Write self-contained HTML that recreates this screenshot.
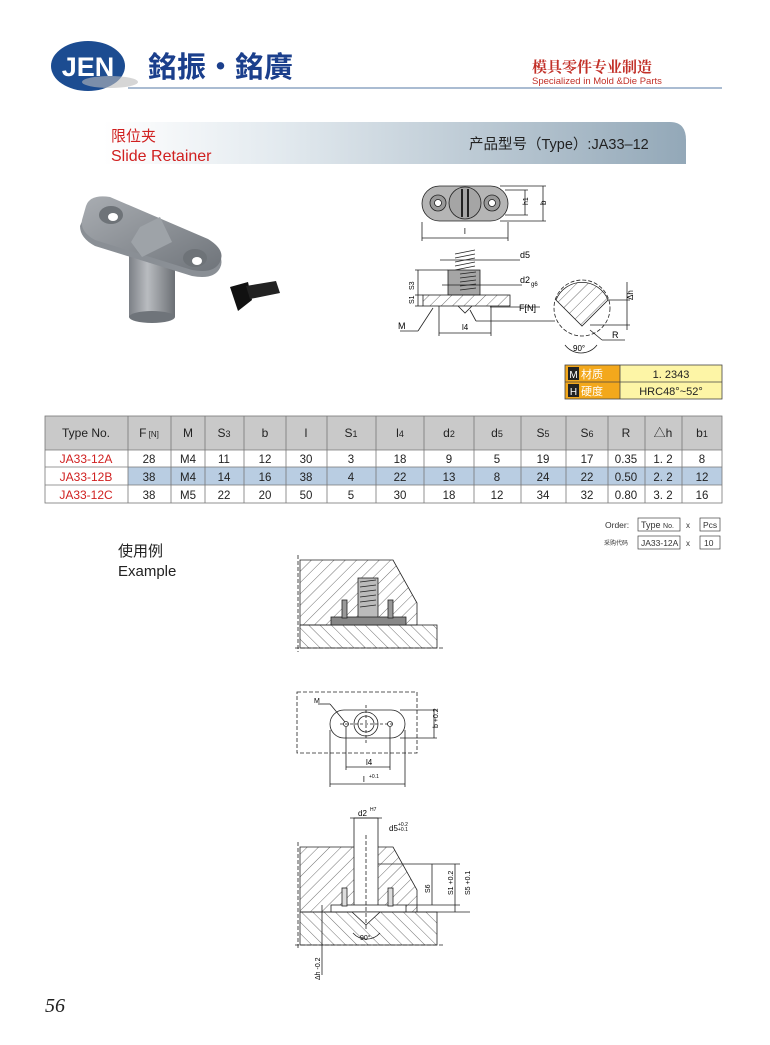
<!DOCTYPE html>
<html><head><meta charset="utf-8"><style>
html,body{margin:0;padding:0;background:#fff}
body{width:770px;height:1045px;position:relative;overflow:hidden;font-family:"Liberation Sans","Noto Sans CJK SC",sans-serif}
svg{position:absolute;left:0;top:0}
</style></head><body>
<svg width="770" height="1045" viewBox="0 0 770 1045" xmlns="http://www.w3.org/2000/svg" font-family="Liberation Sans, Noto Sans CJK SC, sans-serif">
<defs>
<linearGradient id="ban" x1="0" x2="1" y1="0" y2="0"><stop offset="0" stop-color="#fff"/><stop offset="0.3" stop-color="#e3eaef"/><stop offset="1" stop-color="#93a8b8"/></linearGradient>
<linearGradient id="metal" x1="0" x2="1" y1="0" y2="1"><stop offset="0" stop-color="#a9adb2"/><stop offset="1" stop-color="#6f747a"/></linearGradient>
<linearGradient id="cyl" x1="0" x2="1"><stop offset="0" stop-color="#7c8086"/><stop offset="0.4" stop-color="#b9bcc0"/><stop offset="1" stop-color="#6b6f74"/></linearGradient>
<pattern id="h" width="8" height="8" patternUnits="userSpaceOnUse" patternTransform="rotate(45)"><line x1="0" y1="0" x2="0" y2="8" stroke="#333" stroke-width="0.7"/></pattern>
<pattern id="h2" width="8" height="8" patternUnits="userSpaceOnUse" patternTransform="rotate(-45)"><line x1="0" y1="0" x2="0" y2="8" stroke="#333" stroke-width="0.7"/></pattern>
</defs>

<!-- header -->
<ellipse cx="88" cy="66" rx="37" ry="25" fill="#1c4c91"/>
<ellipse cx="110" cy="82" rx="28" ry="6" fill="#bbb" opacity="0.6"/>
<text x="88" y="76" font-size="27" font-weight="bold" fill="#fff" text-anchor="middle">JEN</text>
<text x="148" y="77" font-size="29" font-weight="bold" fill="#1b3f8c" font-family="Noto Sans CJK TC, sans-serif">銘振•銘廣</text>
<text x="532" y="72" font-size="15" fill="#c23028" font-weight="bold" font-family="Noto Serif CJK SC, serif">模具零件专业制造</text>
<text x="532" y="84" font-size="9.5" fill="#c23028">Specialized in Mold &amp;Die Parts</text>
<line x1="128" y1="88" x2="722" y2="88" stroke="#8ea6c4" stroke-width="1.5"/>

<!-- banner -->
<path d="M103 122 H670 Q686 122 686 140 V164 H103 Z" fill="url(#ban)"/>
<text x="111" y="141" font-size="15" fill="#d02020">限位夹</text>
<text x="111" y="161" font-size="16" fill="#d02020">Slide  Retainer</text>
<text x="469" y="149" font-size="14.5" fill="#222">产品型号（Type）:JA33–12</text>

<!-- product photo -->
<rect x="129" y="255" width="46" height="62" fill="url(#cyl)"/>
<ellipse cx="152" cy="317" rx="23" ry="6" fill="#6f747a"/>
<path d="M86 212 Q90 200 110 203 L208 245 Q226 256 220 268 Q214 280 192 276 L95 246 Q80 238 80 226 Z" fill="#8a8f95"/>
<path d="M86 206 Q90 194 110 197 L208 239 Q226 250 220 262 Q214 274 192 270 L95 240 Q80 232 82 220 Z" fill="url(#metal)"/>
<ellipse cx="111" cy="215" rx="12" ry="9" fill="#6e7378"/><ellipse cx="113" cy="217" rx="5" ry="4" fill="#fff"/>
<ellipse cx="195" cy="258" rx="12" ry="9" fill="#6e7378"/><ellipse cx="197" cy="261" rx="5" ry="4" fill="#fff"/>
<path d="M140 227 L160 217 L172 242 L142 257 L131 242 Z" fill="#9ea3a8"/>
<path d="M230 287 L248 282 L252 300 L238 311 Z" fill="#111"/>
<path d="M246 286 L276 281 L280 293 L250 299 Z" fill="#222"/>

<!-- top tech drawing: top view -->
<g stroke="#222" stroke-width="0.8" fill="none">
<rect x="422" y="186" width="86" height="35" rx="17.5" fill="#b5b5b5"/>
<circle cx="438" cy="203" r="8" fill="#999"/><circle cx="438" cy="203" r="3.5" fill="#fff"/>
<circle cx="492" cy="203" r="8" fill="#999"/><circle cx="492" cy="203" r="3.5" fill="#fff"/>
<circle cx="465" cy="203" r="16" fill="#a5a5a5"/>
<line x1="462" y1="189" x2="462" y2="217" stroke-width="2"/><line x1="468" y1="189" x2="468" y2="217" stroke-width="2"/>
<line x1="422" y1="238" x2="508" y2="238"/><line x1="422" y1="222" x2="422" y2="241"/><line x1="508" y1="222" x2="508" y2="241"/>
<line x1="500" y1="186" x2="546" y2="186"/><line x1="500" y1="221" x2="546" y2="221"/>
<line x1="543" y1="186" x2="543" y2="221"/><line x1="525" y1="190" x2="525" y2="215"/>
<line x1="505" y1="190" x2="528" y2="190"/><line x1="505" y1="215" x2="528" y2="215"/>
</g>
<text x="464" y="234" font-size="8">l</text>
<text x="528" y="205" font-size="7" transform="rotate(-90 528 205)">h1</text>
<text x="546" y="205" font-size="8" transform="rotate(-90 546 205)">b</text>
<!-- side view -->
<g stroke="#222" stroke-width="0.8" fill="none">
<path d="M455 254 L475 250 M455 258 L475 254 M455 262 L475 258 M455 266 L475 262 M455 270 L475 266" />
<rect x="448" y="270" width="32" height="25" fill="#a5a5a5"/>
<path d="M460 274 L476 272 M460 278 L476 276 M460 282 L476 280 M460 286 L476 284 M460 290 L476 288"/>
<rect x="423" y="295" width="87" height="11" fill="url(#h)"/>
<path d="M458 306 L465 313 L472 306" />
<line x1="440" y1="260" x2="520" y2="260"/><line x1="442" y1="285" x2="522" y2="285"/>
<line x1="415" y1="270" x2="448" y2="270"/><line x1="415" y1="295" x2="423" y2="295"/><line x1="415" y1="306" x2="423" y2="306"/>
<line x1="418" y1="270" x2="418" y2="306"/>
<line x1="439" y1="306" x2="439" y2="336"/><line x1="491" y1="306" x2="491" y2="336"/>
<line x1="439" y1="333" x2="491" y2="333"/>
<line x1="400" y1="331" x2="418" y2="331"/><line x1="418" y1="331" x2="433" y2="308"/>
<line x1="470" y1="310" x2="476" y2="321"/><line x1="476" y1="321" x2="555" y2="321"/>
<line x1="490" y1="307" x2="540" y2="307"/>
<circle cx="582" cy="308" r="28" stroke-dasharray="4 2"/>
</g>
<path d="M556 300 A28 28 0 0 1 608 300 L582 326 Z" fill="url(#h)" stroke="#222" stroke-width="0.8"/>
<g stroke="#222" stroke-width="0.8" fill="none">
<line x1="608" y1="300" x2="630" y2="300"/><line x1="590" y1="325" x2="630" y2="325"/><line x1="627" y1="282" x2="627" y2="330"/>
<line x1="590" y1="330" x2="602" y2="340"/><line x1="602" y1="340" x2="625" y2="340"/>
<path d="M565 345 A20 20 0 0 0 597 345"/>
</g>
<text x="520" y="258" font-size="9">d5</text>
<text x="520" y="283" font-size="9">d2</text><text x="531" y="286" font-size="6">g6</text>
<text x="519" y="311" font-size="9">F[N]</text>
<text x="398" y="329" font-size="9">M</text>
<text x="462" y="330" font-size="8">l4</text>
<text x="414" y="290" font-size="7" transform="rotate(-90 414 290)">S3</text>
<text x="414" y="304" font-size="7" transform="rotate(-90 414 304)">S1</text>
<text x="633" y="300" font-size="8" transform="rotate(-90 633 300)">Δh</text>
<text x="612" y="338" font-size="9">R</text>
<text x="573" y="351" font-size="8">90°</text>

<!-- material box -->
<rect x="565" y="365" width="55" height="17" fill="#f3a81c"/><rect x="565" y="382" width="55" height="17" fill="#f3a81c"/>
<rect x="620" y="365" width="102" height="17" fill="#fdf5a6"/><rect x="620" y="382" width="102" height="17" fill="#fdf5a6"/>
<g stroke="#444" stroke-width="0.8" fill="none"><rect x="565" y="365" width="157" height="34"/><line x1="565" y1="382" x2="722" y2="382"/><line x1="620" y1="365" x2="620" y2="399"/></g>
<rect x="568" y="367" width="11" height="13" fill="#222"/><text x="573.5" y="378" font-size="10" fill="#fff" text-anchor="middle">M</text>
<rect x="568" y="384" width="11" height="13" fill="#222"/><text x="573.5" y="395" font-size="10" fill="#fff" text-anchor="middle">H</text>
<text x="581" y="378" font-size="11" fill="#fff">材质</text><text x="581" y="395" font-size="11" fill="#fff">硬度</text>
<text x="671" y="378" font-size="11" text-anchor="middle" fill="#222">1. 2343</text>
<text x="671" y="395" font-size="11" text-anchor="middle" fill="#222">HRC48°~52°</text>

<!-- table -->
<rect x="45" y="416" width="677" height="34" fill="#c9c9c9"/>
<rect x="128" y="467" width="594" height="18" fill="#b9cde2"/>
<g stroke="#777" stroke-width="0.8" fill="none">
<rect x="45" y="416" width="677" height="87"/>
<line x1="45" y1="450" x2="722" y2="450"/><line x1="45" y1="467" x2="722" y2="467"/><line x1="45" y1="485" x2="722" y2="485"/>
<line x1="128" y1="416" x2="128" y2="503"/><line x1="171" y1="416" x2="171" y2="503"/><line x1="205" y1="416" x2="205" y2="503"/>
<line x1="244" y1="416" x2="244" y2="503"/><line x1="286" y1="416" x2="286" y2="503"/><line x1="327" y1="416" x2="327" y2="503"/>
<line x1="376" y1="416" x2="376" y2="503"/><line x1="424" y1="416" x2="424" y2="503"/><line x1="474" y1="416" x2="474" y2="503"/>
<line x1="521" y1="416" x2="521" y2="503"/><line x1="566" y1="416" x2="566" y2="503"/><line x1="608" y1="416" x2="608" y2="503"/>
<line x1="645" y1="416" x2="645" y2="503"/><line x1="682" y1="416" x2="682" y2="503"/>
</g>
<g font-size="12" fill="#222" text-anchor="middle">
<text x="86" y="437">Type No.</text><text x="149" y="437">F<tspan font-size="8"> [N]</tspan></text><text x="188" y="437">M</text>
<text x="224" y="437">S<tspan font-size="9">3</tspan></text><text x="265" y="437">b</text><text x="306" y="437">l</text>
<text x="351" y="437">S<tspan font-size="9">1</tspan></text><text x="400" y="437">l<tspan font-size="9">4</tspan></text>
<text x="449" y="437">d<tspan font-size="9">2</tspan></text><text x="497" y="437">d<tspan font-size="9">5</tspan></text>
<text x="543" y="437">S<tspan font-size="9">5</tspan></text><text x="587" y="437">S<tspan font-size="9">6</tspan></text>
<text x="626" y="437">R</text><text x="663" y="437">△h</text><text x="702" y="437">b<tspan font-size="9">1</tspan></text>
</g>
<g font-size="12" fill="#d02020" text-anchor="middle"><text x="86" y="463">JA33-12A</text><text x="86" y="481">JA33-12B</text><text x="86" y="499">JA33-12C</text></g>
<g font-size="11.5" fill="#222" text-anchor="middle">
<text y="463"><tspan x="149">28</tspan><tspan x="188">M4</tspan><tspan x="224">11</tspan><tspan x="265">12</tspan><tspan x="306">30</tspan><tspan x="351">3</tspan><tspan x="400">18</tspan><tspan x="449">9</tspan><tspan x="497">5</tspan><tspan x="543">19</tspan><tspan x="587">17</tspan><tspan x="626">0.35</tspan><tspan x="663">1. 2</tspan><tspan x="702">8</tspan></text>
<text y="481"><tspan x="149">38</tspan><tspan x="188">M4</tspan><tspan x="224">14</tspan><tspan x="265">16</tspan><tspan x="306">38</tspan><tspan x="351">4</tspan><tspan x="400">22</tspan><tspan x="449">13</tspan><tspan x="497">8</tspan><tspan x="543">24</tspan><tspan x="587">22</tspan><tspan x="626">0.50</tspan><tspan x="663">2. 2</tspan><tspan x="702">12</tspan></text>
<text y="499"><tspan x="149">38</tspan><tspan x="188">M5</tspan><tspan x="224">22</tspan><tspan x="265">20</tspan><tspan x="306">50</tspan><tspan x="351">5</tspan><tspan x="400">30</tspan><tspan x="449">18</tspan><tspan x="497">12</tspan><tspan x="543">34</tspan><tspan x="587">32</tspan><tspan x="626">0.80</tspan><tspan x="663">3. 2</tspan><tspan x="702">16</tspan></text>
</g>

<!-- order -->
<text x="605" y="528" font-size="8.5" fill="#333">Order:</text>
<text x="604" y="545" font-size="6" fill="#333">采购代码</text>
<g stroke="#444" stroke-width="0.7" fill="none"><rect x="638" y="518" width="42" height="13"/><rect x="700" y="518" width="20" height="13"/><rect x="638" y="536" width="42" height="13"/><rect x="700" y="536" width="20" height="13"/></g>
<text x="641" y="528" font-size="9" fill="#333">Type <tspan font-size="7">No.</tspan></text><text x="686" y="528" font-size="8" fill="#333">x</text><text x="703" y="528" font-size="8.5" fill="#333">Pcs</text>
<text x="641" y="546" font-size="8.5" fill="#333">JA33-12A</text><text x="686" y="546" font-size="8" fill="#333">x</text><text x="704" y="546" font-size="8.5" fill="#333">10</text>

<text x="118" y="556" font-size="15" fill="#222">使用例</text>
<text x="118" y="576" font-size="15" fill="#222">Example</text>

<!-- example 1 -->
<g stroke="#222" stroke-width="0.8">
<path d="M300 560 H393 L417 603 V625 H300 Z" fill="url(#h)"/>
<rect x="300" y="625" width="137" height="23" fill="url(#h2)"/>
<rect x="358" y="578" width="20" height="40" fill="#bbb"/>
<path d="M360 582 L376 580 M360 587 L376 585 M360 592 L376 590 M360 597 L376 595 M360 602 L376 600 M360 607 L376 605" fill="none"/>
<rect x="331" y="617" width="75" height="8" fill="#888"/>
<rect x="342" y="600" width="5" height="18" fill="#999"/><rect x="388" y="600" width="5" height="18" fill="#999"/>
<line x1="295" y1="648" x2="445" y2="648" stroke-dasharray="4 2" fill="none"/>
<line x1="298" y1="555" x2="298" y2="652" stroke-dasharray="4 2" fill="none"/>
</g>
<!-- example 2 -->
<g stroke="#222" stroke-width="0.8" fill="none">
<rect x="297" y="692" width="120" height="61" stroke-dasharray="4 2"/>
<rect x="330" y="710" width="75" height="28" rx="14"/>
<circle cx="366" cy="724" r="12"/><circle cx="366" cy="724" r="8"/>
<circle cx="346" cy="724" r="2.5"/><circle cx="390" cy="724" r="2.5"/>
<line x1="366" y1="705" x2="366" y2="745" stroke-dasharray="3 2"/><line x1="340" y1="724" x2="392" y2="724" stroke-dasharray="3 2"/>
<line x1="346" y1="727" x2="346" y2="770"/><line x1="390" y1="727" x2="390" y2="770"/><line x1="346" y1="767" x2="390" y2="767"/>
<line x1="330" y1="730" x2="330" y2="787"/><line x1="405" y1="730" x2="405" y2="787"/><line x1="330" y1="784" x2="405" y2="784"/>
<line x1="400" y1="710" x2="437" y2="710"/><line x1="400" y1="738" x2="437" y2="738"/><line x1="434" y1="710" x2="434" y2="738"/>
<line x1="318" y1="704" x2="330" y2="704"/><line x1="330" y1="704" x2="345" y2="722"/>
</g>
<text x="314" y="703" font-size="7">M</text><text x="366" y="765" font-size="8">l4</text><text x="363" y="782" font-size="8">l</text><text x="369" y="778" font-size="5">+0.1</text>
<text x="438" y="728" font-size="7" transform="rotate(-90 438 728)">b +0.2</text>
<!-- example 3 -->
<g stroke="#222" stroke-width="0.8">
<path d="M300 847 H393 L417 890 V912 H300 Z" fill="url(#h)"/>
<rect x="354" y="818" width="24" height="94" fill="#fff"/>
<rect x="331" y="905" width="75" height="7" fill="#fff"/>
<rect x="300" y="912" width="137" height="33" fill="url(#h2)"/>
<path d="M352 912 L366 925 L380 912 Z" fill="#fff"/>
<rect x="342" y="888" width="5" height="18" fill="#ddd"/><rect x="388" y="888" width="5" height="18" fill="#ddd"/>
<g fill="none">
<line x1="350" y1="818" x2="382" y2="818"/><line x1="366" y1="835" x2="366" y2="930" stroke-dasharray="4 2"/>
<line x1="378" y1="864" x2="460" y2="864"/><line x1="406" y1="905" x2="460" y2="905"/><line x1="410" y1="912" x2="470" y2="912"/>
<line x1="432" y1="864" x2="432" y2="905"/><line x1="455" y1="864" x2="455" y2="912"/>
<line x1="295" y1="945" x2="445" y2="945" stroke-dasharray="4 2"/>
<line x1="298" y1="842" x2="298" y2="950" stroke-dasharray="4 2"/>
<line x1="322" y1="905" x2="322" y2="975"/>
<path d="M353 933 A18 18 0 0 0 380 933"/>
</g>
</g>
<text x="358" y="816" font-size="8">d2</text><text x="370" y="811" font-size="5">H7</text>
<text x="389" y="831" font-size="8">d5</text><text x="398" y="826" font-size="5">+0.2</text><text x="398" y="831" font-size="5">+0.1</text>
<text x="360" y="940" font-size="7">90°</text>
<text x="430" y="893" font-size="7" transform="rotate(-90 430 893)">S6</text>
<text x="453" y="895" font-size="7" transform="rotate(-90 453 895)">S1 +0.2</text>
<text x="470" y="895" font-size="7" transform="rotate(-90 470 895)">S5 +0.1</text>
<text x="320" y="980" font-size="7" transform="rotate(-90 320 980)">Δh -0.2</text>

<text x="45" y="1012" font-size="20" font-style="italic" font-family="Liberation Serif, serif" fill="#222">56</text>
</svg>
</body></html>
